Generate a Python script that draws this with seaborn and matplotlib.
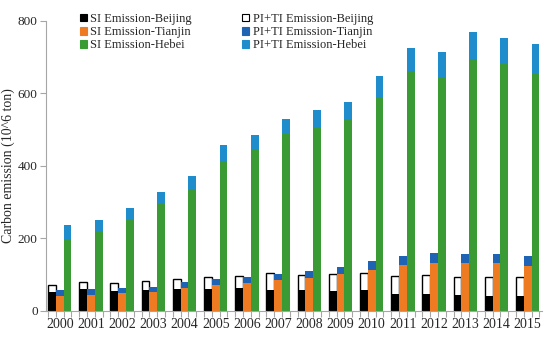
import numpy as np
import pandas as pd
import matplotlib
matplotlib.use("Agg")
import matplotlib.pyplot as plt
from matplotlib.patches import Patch
from matplotlib.ticker import FixedLocator
import seaborn as sns

years = [str(y) for y in range(2000, 2016)]
cities = ["Beijing", "Tianjin", "Hebei"]

# SI emission (10^6 ton)
si_beijing = [52, 60, 56, 58, 60, 61, 63, 58, 58, 56, 58, 48, 48, 43, 41, 40]
si_tianjin = [42, 45, 51, 52, 63, 72, 77, 86, 92, 101, 113, 127, 132, 133, 132, 124]
si_hebei = [199, 218, 251, 295, 337, 415, 446, 488, 506, 529, 588, 662, 646, 696, 682, 657]

# PI+TI emission (10^6 ton), stacked on top of SI
piti_beijing = [19, 21, 22, 25, 28, 32, 34, 46, 41, 45, 46, 48, 50, 51, 52, 53]
piti_tianjin = [16, 15, 13, 13, 17, 16, 18, 17, 18, 21, 24, 25, 27, 25, 26, 28]
piti_hebei = [38, 33, 33, 33, 36, 44, 40, 41, 48, 48, 59, 63, 69, 73, 70, 79]

si_colors = ["#000000", "#EE7B22", "#3A9B35"]
piti_colors = ["#FFFFFF", "#1F63B5", "#1F8DCC"]

rows = []
for city, si, piti in zip(cities,
                          [si_beijing, si_tianjin, si_hebei],
                          [piti_beijing, piti_tianjin, piti_hebei]):
    for yr, s, p in zip(years, si, piti):
        rows.append({"year": yr, "city": city, "si": s, "total": s + p})
df = pd.DataFrame(rows)

sns.set_style("white")
plt.rcParams["font.family"] = ["Liberation Serif", "DejaVu Serif"]

fig = plt.figure(figsize=(5.5, 3.4), dpi=100)
ax = fig.add_axes([0.0836, 0.0853, 0.9014, 0.853])

# totals first, SI drawn over them -> stacked look
sns.barplot(data=df, x="year", y="total", hue="city", hue_order=cities,
            palette=piti_colors, saturation=1, width=0.75, gap=0,
            legend=False, errorbar=None, ax=ax)
sns.barplot(data=df, x="year", y="si", hue="city", hue_order=cities,
            palette=si_colors, saturation=1, width=0.75, gap=0,
            legend=False, errorbar=None, ax=ax)

for i, cont in enumerate(ax.containers):
    for bar in cont:
        if i == 0:
            bar.set_edgecolor("black")
            bar.set_linewidth(1.0)
        else:
            bar.set_linewidth(0)

ax.set_xlim(-0.44, 15.45)
ax.set_ylim(0, 800)
ax.set_yticks([0, 200, 400, 600, 800])
ax.set_xlabel("")
ax.set_ylabel("Carbon emission (10^6 ton)", fontsize=10)
ax.yaxis.set_label_coords(-0.062, 0.5)

for side in ["top", "right"]:
    ax.spines[side].set_visible(False)
for side in ["left", "bottom"]:
    ax.spines[side].set_color("#A6A6A6")
    ax.spines[side].set_linewidth(0.8)

ax.tick_params(axis="y", which="major", length=4, width=0.8, color="#A6A6A6",
               labelsize=9.5, pad=2, direction="out", left=True)
ax.tick_params(axis="x", which="major", length=0, labelsize=10, pad=5)
ax.xaxis.set_minor_locator(FixedLocator(np.arange(-0.375, 15.45, 0.25)))
ax.tick_params(axis="x", which="minor", length=4, width=0.8, color="#A6A6A6",
               direction="out", bottom=True)

# legend in column order: SI column, then PI+TI column
labels = ["SI Emission-Beijing", "SI Emission-Tianjin", "SI Emission-Hebei",
          "PI+TI Emission-Beijing", "PI+TI Emission-Tianjin", "PI+TI Emission-Hebei"]
face = si_colors + piti_colors
edge = [c if c != "#FFFFFF" else "black" for c in face]
handles = [Patch(facecolor=f, edgecolor=e, linewidth=0.8) for f, e in zip(face, edge)]
ax.legend(handles, labels, ncol=2, frameon=False, fontsize=9,
          loc="upper left", bbox_to_anchor=(0.058, 1.045),
          handlelength=0.55, handleheight=0.55, handletextpad=0.3,
          columnspacing=4.0, labelspacing=0.1, borderaxespad=0)

fig.savefig("out.png", dpi=100)
